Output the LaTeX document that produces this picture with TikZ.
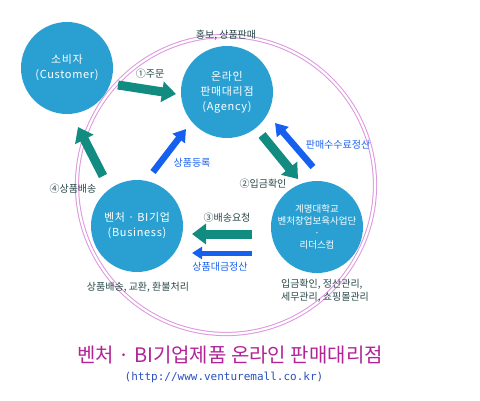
\documentclass[tikz,border=0pt]{standalone}
\usepackage{fontspec}
\usepackage{tikz}
\usetikzlibrary{arrows.meta}

\newfontfamily\krfont{Noto Sans CJK KR}
\newfontfamily\krwide{Noto Sans CJK KR}[LetterSpace=6]
\newfontfamily\urlfont{DejaVu Sans Mono}

\definecolor{ballblue}{RGB}{42,160,210}
\definecolor{arrowteal}{RGB}{18,140,128}
\definecolor{arrowblue}{RGB}{22,96,240}
\definecolor{notegray}{RGB}{40,72,72}
\definecolor{ringpink}{RGB}{222,150,222}
\definecolor{titlemagenta}{RGB}{178,36,150}
\definecolor{urlblue}{RGB}{40,80,190}

\tikzset{
  ball/.style={circle, fill=ballblue, draw=none, minimum size=92pt, inner sep=0pt,
    align=center, text=white, font=\krwide\fontsize{11}{15}\selectfont},
  tealarrow/.style={draw=arrowteal, line width=9pt, -{Triangle[width=20pt,length=14pt]}},
  bluearrow/.style={draw=arrowblue, line width=6.5pt, -{Triangle[width=15pt,length=12pt]}},
  note/.style={draw=none, text=notegray, font=\krfont\fontsize{10}{12.5}\selectfont},
  bluenote/.style={note, text=arrowblue},
}

\begin{document}
\begin{tikzpicture}[x=1pt,y=-1pt]

\useasboundingbox (0,0) rectangle (480,400);

\draw[ringpink, line width=1pt, double=white, double distance=2.2pt] (226,185) circle (149pt); % Outer ring

\node [ball] (cust) at (67,68) {소비자\\(Customer)};
\node [ball] (agency) at (227,92) {온라인\\판매대리점\\(Agency)};
\node [ball] (biz) at (137,226) {벤처 · BI기업\\(Business)};
\node [ball, font=\krfont\fontsize{9.5}{12}\selectfont] (kmu) at (317,227) {계명대학교\\벤처창업보육사업단\\·\\리더스컴};

% arrow ends
\coordinate (order-s) at (118,85);   \coordinate (order-e) at (176,94);
\coordinate (ship-s) at (103,176);   \coordinate (ship-e) at (78,127);
\coordinate (reg-s) at (153,172);    \coordinate (reg-e) at (186,129);
\coordinate (pay-s) at (262,135);    \coordinate (pay-e) at (298,179);
\coordinate (fee-s) at (313,167);    \coordinate (fee-e) at (275,123);
\coordinate (req-s) at (252,234);    \coordinate (req-e) at (192,234);
\coordinate (bill-s) at (252,253);   \coordinate (bill-e) at (192,253);

\draw[tealarrow] (order-s) -- (order-e);
\draw[tealarrow] (ship-s) -- (ship-e);
\draw[tealarrow] (pay-s) -- (pay-e);
\draw[tealarrow] (req-s) -- (req-e);
\draw[bluearrow] (reg-s) -- (reg-e);
\draw[bluearrow] (fee-s) -- (fee-e);
\draw[bluearrow, line width=5pt, -{Triangle[width=12pt,length=10pt]}] (bill-s) -- (bill-e);

\node [note] (promo) at (226,35) {홍보, 상품판매};
\node [note] (order) at (150,74) {①주문};
\node [note] (ship) at (73,189) {④상품배송};
\node [bluenote] (reg) at (192,163) {상품등록};
\node [bluenote] (fee) at (338,145) {판매수수료정산};
\node [note] (pay) at (263,184) {②입금확인};
\node [note] (req) at (227,218) {③배송요청};
\node [bluenote] (bill) at (220,267) {상품대금정산};
\node [note] (bizjob) at (138,287) {상품배송, 교환, 환불처리};
\node [note, align=left] (kmujob) at (325,291) {입금확인, 정산관리,\\세무관리, 쇼핑몰관리};

\node [draw=none, text=titlemagenta, font=\krfont\fontsize{20}{24}\selectfont] (title) at (230,355) {벤처 · BI기업제품 온라인 판매대리점}; % Title
\node [draw=none, text=urlblue, font=\urlfont\fontsize{11}{13}\selectfont] (url) at (224,377) {(http://www.venturemall.co.kr)};

\end{tikzpicture}
\end{document}
